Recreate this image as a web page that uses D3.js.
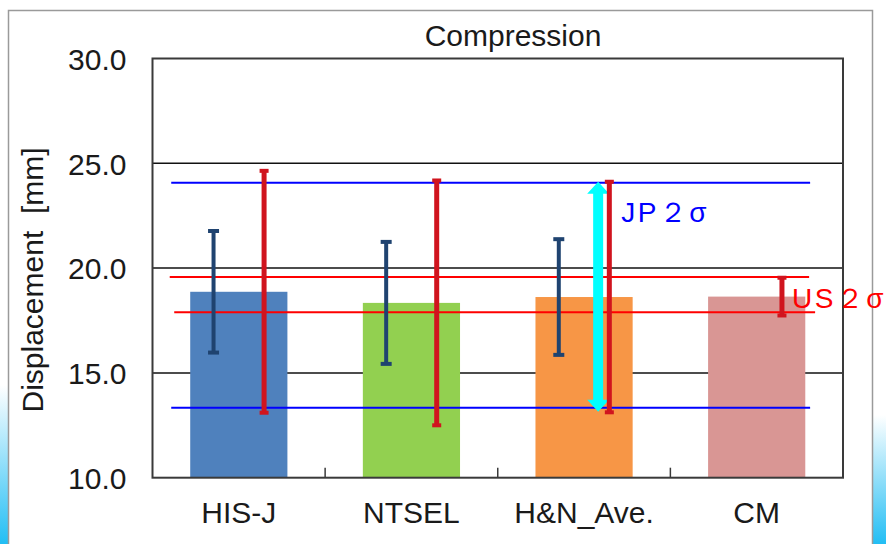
<!DOCTYPE html>
<html>
<head>
<meta charset="utf-8">
<script src="https://cdn.jsdelivr.net/npm/d3@7"></script>
<style>
  html, body { margin: 0; padding: 0; background: #fff; }
  svg { display: block; }
  text { font-family: "Liberation Sans", Arial, sans-serif; fill: #1a1a1a; }
</style>
</head>
<body>
<svg id="chart" width="886" height="544"></svg>
<script>
// Compression displacement per dataset
const categories = ["HIS-J", "NTSEL", "H&N_Ave.", "CM"];
const means      = [18.87, 18.34, 18.62, 18.64];
const sd1        = [2.90, 2.91, 2.76, null];   // ±1σ (dark blue bars)
const sd2        = [5.77, 5.84, 5.50, 0.90];   // ±2σ (red bars)
const barColors  = ["#4F81BD", "#92D050", "#F79646", "#D99694"];
const yTicks     = [10, 15, 20, 25, 30];
const jpBand     = [13.34, 24.07];             // JP 2σ range
const usBand     = [17.89, 19.58];             // US 2σ range
const title      = "Compression";
const yLabel     = "Displacement  [mm]";

const svg = d3.select("#chart");
const W = 886, H = 544;
const plot = { left: 152.5, right: 843, top: 58.5, bottom: 477.7 };

// Side gradient strips of the slide background
const defs = svg.append("defs");
const grad = defs.append("linearGradient").attr("id", "edge").attr("x1", 0).attr("y1", 0).attr("x2", 0).attr("y2", 1);
grad.append("stop").attr("offset", "0%").attr("stop-color", "#ffffff");
grad.append("stop").attr("offset", "100%").attr("stop-color", "#22BEF4");
svg.append("rect").attr("x", 0).attr("y", 385).attr("width", 8).attr("height", H - 385).attr("fill", "url(#edge)");
svg.append("rect").attr("x", 872).attr("y", 415).attr("width", W - 872).attr("height", H - 415).attr("fill", "url(#edge)");

// Chart frame
svg.append("rect").attr("x", 8.5).attr("y", 10.5).attr("width", 864).attr("height", H)
  .attr("fill", "#fff").attr("stroke", "#9a9a9a").attr("stroke-width", 1.5);

const y = d3.scaleLinear().domain([10, 30]).range([plot.bottom, plot.top]);
const pad = 0.437;
const x = d3.scaleBand().domain(categories).range([plot.left, plot.right])
  .paddingInner(pad).paddingOuter(pad / 2);
const bw = x.bandwidth();
const step = x.step();
const cx = c => x(c) + bw / 2;

// Horizontal gridlines
svg.append("g").selectAll("line").data(yTicks.filter(t => t > 10 && t < 30)).join("line")
  .attr("x1", plot.left).attr("x2", plot.right)
  .attr("y1", d => y(d)).attr("y2", d => y(d))
  .attr("stroke", "#111").attr("stroke-width", 1.5);

// Y axis tick labels
const yAxis = d3.axisLeft(y).tickValues(yTicks).tickFormat(d3.format(".1f")).tickSize(0).tickPadding(26);
const gy = svg.append("g").attr("transform", `translate(${plot.left},0)`).call(yAxis);
gy.select(".domain").remove();
gy.selectAll("text").attr("font-size", 30).attr("font-family", "Liberation Sans, Arial, sans-serif")
  .attr("fill", "#1a1a1a").attr("dy", "0.36em");

// Bars
svg.append("g").selectAll("rect").data(categories).join("rect")
  .attr("x", d => x(d)).attr("width", bw)
  .attr("y", (d, i) => y(means[i])).attr("height", (d, i) => y(10) - y(means[i]))
  .attr("fill", (d, i) => barColors[i]);

// Plot border
svg.append("rect").attr("x", plot.left).attr("y", plot.top)
  .attr("width", plot.right - plot.left).attr("height", plot.bottom - plot.top)
  .attr("fill", "none").attr("stroke", "#3a3a3a").attr("stroke-width", 2);

// Category boundary ticks on the x axis (inside)
const bounds = d3.range(1, categories.length).map(i => plot.left + i * step);
svg.append("g").selectAll("line").data(bounds).join("line")
  .attr("x1", d => d).attr("x2", d => d)
  .attr("y1", plot.bottom).attr("y2", plot.bottom - 10)
  .attr("stroke", "#3a3a3a").attr("stroke-width", 1.5);

// Category labels
const xAxis = d3.axisBottom(x).tickSize(0).tickPadding(24);
const gx = svg.append("g").attr("transform", `translate(0,${plot.bottom})`).call(xAxis);
gx.select(".domain").remove();
gx.selectAll("text").attr("font-size", 30).attr("font-family", "Liberation Sans, Arial, sans-serif")
  .attr("fill", "#1a1a1a");

// Reference band lines: JP 2σ (blue), US 2σ (red)
const refX1 = x(categories[0]) - step * 0.11;
const refX2 = x(categories[categories.length - 1]) + bw + step * 0.028;
const refLines = [
  { v: jpBand[1], c: "#0000FF", x1: refX1, x2: refX2 },
  { v: jpBand[0], c: "#0000FF", x1: refX1, x2: refX2 },
  { v: usBand[1], c: "#FF0000", x1: refX1 - 1.5, x2: refX2 - 1 },
  { v: usBand[0], c: "#FF0000", x1: refX1 + 3, x2: refX2 + 5 }
];
svg.append("g").selectAll("line").data(refLines).join("line")
  .attr("x1", d => d.x1).attr("x2", d => d.x2)
  .attr("y1", d => y(d.v)).attr("y2", d => y(d.v))
  .attr("stroke", d => d.c).attr("stroke-width", 2);

// Error bars
function errBar(g, xc, lo, hi, color, w, capW) {
  g.append("line").attr("x1", xc).attr("x2", xc).attr("y1", y(lo)).attr("y2", y(hi))
    .attr("stroke", color).attr("stroke-width", w);
  [lo, hi].forEach(v => g.append("rect")
    .attr("x", xc - capW / 2).attr("y", y(v) - 2).attr("width", capW).attr("height", 4)
    .attr("fill", color));
}
const eb = svg.append("g");
const off = bw * 0.26;
categories.forEach((c, i) => {
  if (sd1[i] != null) errBar(eb, cx(c) - off, means[i] - sd1[i], means[i] + sd1[i], "#1F4370", 4, 11);
});

// Double-headed arrow marking the JP 2σ span
const ax = cx(categories[2]) + bw * 0.145;
const yTop = y(jpBand[1]) - 1, yBot = y(jpBand[0]) + 4;
const head = 12, hw = 11, sw = 5;
const arrowPts = [
  [ax, yTop], [ax + hw, yTop + head], [ax + sw, yTop + head],
  [ax + sw, yBot - head], [ax + hw, yBot - head], [ax, yBot],
  [ax - hw, yBot - head], [ax - sw, yBot - head], [ax - sw, yTop + head],
  [ax - hw, yTop + head]
];
svg.append("polygon").attr("points", arrowPts.map(p => p.join(",")).join(" ")).attr("fill", "#00FFFF");

categories.forEach((c, i) => {
  errBar(eb.append("g").raise(), cx(c) + off, means[i] - sd2[i], means[i] + sd2[i], "#D0141E", 5, 9);
});
svg.node().appendChild(eb.node());

// Band labels
svg.append("text").attr("x", ax + 23).attr("y", y(jpBand[1]) + 39)
  .attr("font-family", "Noto Sans CJK JP, sans-serif").attr("font-size", 28)
  .attr("letter-spacing", 2.5).style("fill", "#0000FF").text("JP２σ");
svg.append("text").attr("x", cx(categories[3]) + off + 10).attr("y", y(usBand[0]) - 4)
  .attr("font-family", "Noto Sans CJK JP, sans-serif").attr("font-size", 28)
  .attr("letter-spacing", 2.5).style("fill", "#FF0000").text("US２σ");

// Title and y-axis label
svg.append("text").attr("x", 513).attr("y", 46).attr("text-anchor", "middle")
  .attr("font-size", 30).text(title);
svg.append("text").attr("transform", `translate(43,${280}) rotate(-90)`)
  .attr("text-anchor", "middle").attr("font-size", 30).style("white-space", "pre").text(yLabel);
</script>
</body>
</html>
